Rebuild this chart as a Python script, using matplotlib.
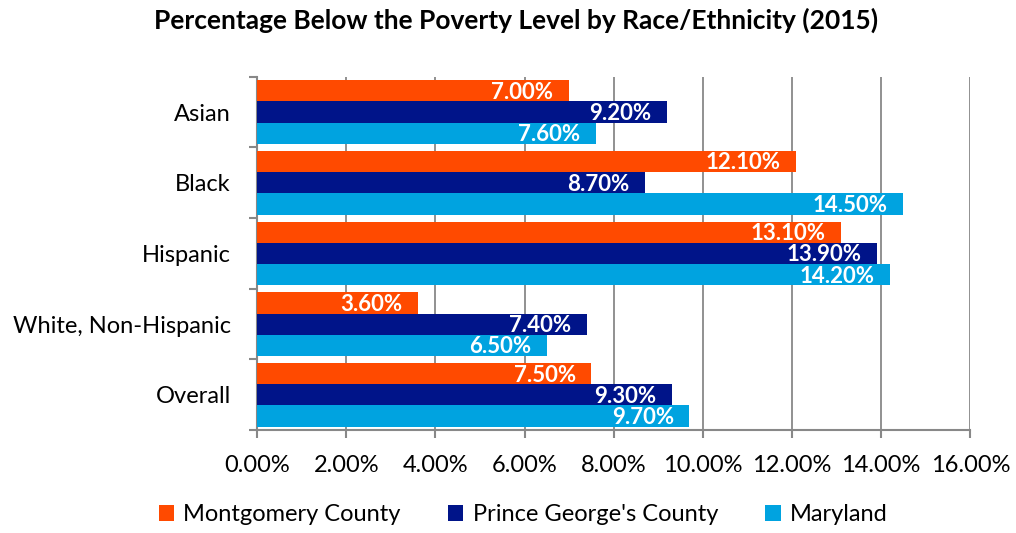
import numpy as np
import matplotlib.pyplot as plt
from matplotlib.ticker import FixedLocator

plt.rcParams['font.family'] = ['Lato', 'DejaVu Sans']

categories = ['Asian', 'Black', 'Hispanic', 'White, Non-Hispanic', 'Overall']
series_names = ['Montgomery County', "Prince George's County", 'Maryland']
montgomery = [7.0, 12.1, 13.1, 3.6, 7.5]
prince_georges = [9.2, 8.7, 13.9, 7.4, 9.3]
maryland = [7.6, 14.5, 14.2, 6.5, 9.7]
colors = ['#FF4A00', '#001489', '#00A3E0']

fig = plt.figure(figsize=(10.16, 5.33), dpi=100)
ax = fig.add_axes([0.253, 0.193, 0.702, 0.663])

y = np.arange(len(categories))
h = 0.3
for i, (vals, name, c) in enumerate(zip([montgomery, prince_georges, maryland], series_names, colors)):
    pos = y + (i - 1) * h
    ax.barh(pos, vals, height=h, color=c, label=name, zorder=3)
    for p, v in zip(pos, vals):
        ax.text(v - 0.35, p + 0.02, f'{v:.2f}%', ha='right', va='center', color='white',
                fontsize=16, fontweight='bold', zorder=4)

ax.set_xlim(0, 16)
ax.set_ylim(len(categories) - 0.5, -0.5)
ax.set_xticks(np.arange(0, 17, 2))
ax.set_xticklabels([f'{t:.2f}%' for t in np.arange(0, 17, 2)], fontsize=17)
ax.set_yticks(y)
ax.set_yticklabels(categories, fontsize=17)
ax.tick_params(axis='y', length=0, pad=19)
ax.yaxis.set_minor_locator(FixedLocator(np.arange(-0.5, len(categories), 1)))
ax.tick_params(axis='y', which='minor', length=6, color='#888888', width=1.5)
ax.tick_params(axis='x', length=6, color='#888888', width=1.5, pad=12)
ax.grid(axis='x', color='#888888', linewidth=1.3, zorder=0)
for s in ['top', 'right']:
    ax.spines[s].set_visible(False)
for s in ['left', 'bottom']:
    ax.spines[s].set_color('#888888')
    ax.spines[s].set_linewidth(1.5)

fig.suptitle('Percentage Below the Poverty Level by Race/Ethnicity (2015)',
             fontsize=19, fontweight='bold', y=0.985, x=0.508)
fig.legend(loc='lower center', ncol=3, frameon=False, fontsize=17,
           bbox_to_anchor=(0.515, -0.025), handlelength=0.65, handleheight=0.65,
           columnspacing=2.0, handletextpad=0.4)

fig.savefig('out.png', dpi=100)
